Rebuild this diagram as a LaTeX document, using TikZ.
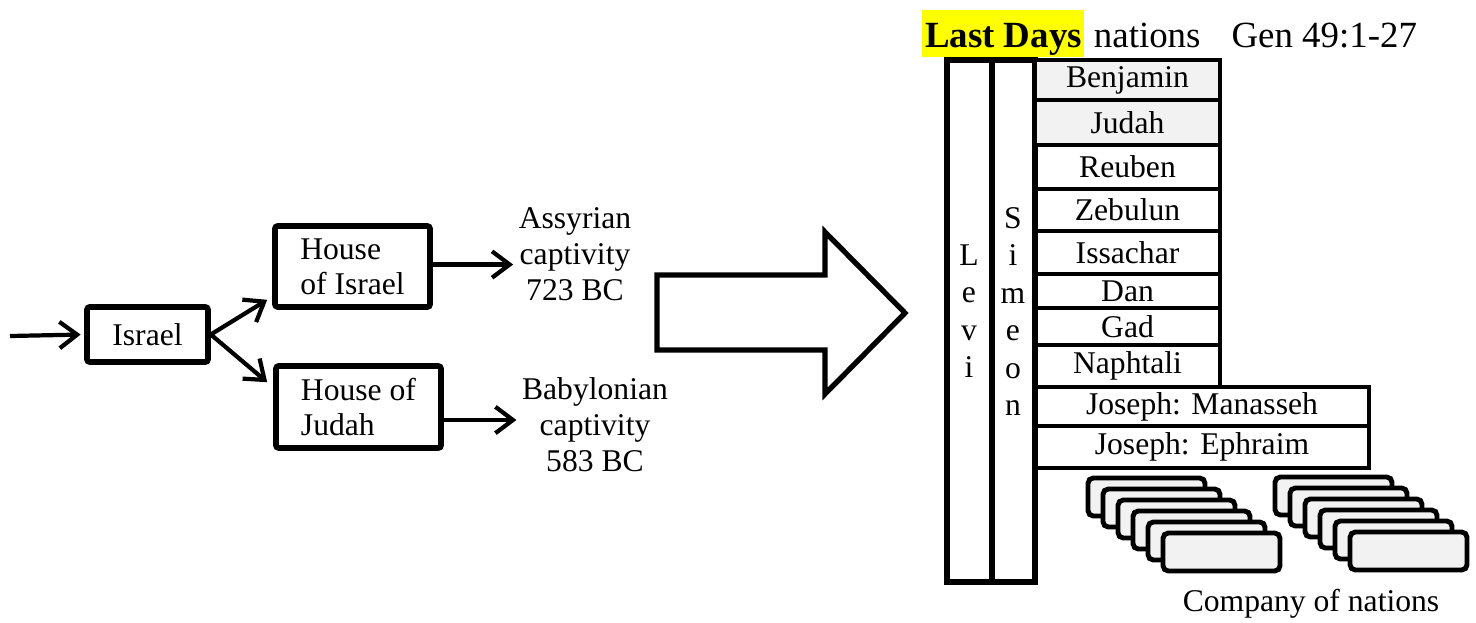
\documentclass[tikz,border=0pt]{standalone}
\usepackage{fontspec}
\setmainfont{Liberation Serif}
\usetikzlibrary{arrows.meta,positioning,calc}
\definecolor{paleg}{HTML}{F2F2F2}
\definecolor{hilite}{HTML}{FFFF00}
\newcommand{\bodysize}{\fontsize{18}{20}\selectfont}
\newcommand{\capsize}{\fontsize{18}{20.5}\selectfont}
\newcommand{\colsize}{\fontsize{18}{21.3}\selectfont}
\newcommand{\headsize}{\fontsize{21}{24}\selectfont}
\tikzset{
	house/.style={draw,line width=3.2pt,rounded corners=1.5pt,inner sep=0pt,align=left,font=\bodysize},
	conn/.style={line width=2.4pt,-{Straight Barb[length=10pt,width=15pt]}},
	caption/.style={align=center,inner ysep=0pt,inner xsep=3pt,font=\capsize},
	column/.style={draw,line width=3pt,inner sep=0pt},
	letters/.style={align=center,inner sep=0pt,font=\colsize},
	tribe/.style={draw,line width=2.8pt,inner sep=0pt,font=\bodysize},
	nation/.style={draw,line width=2.8pt,rounded corners=3pt,fill=paleg},
}
\begin{document}
\begin{tikzpicture}[x=0.02cm,y=-0.02cm]
	\def\pu{0.02cm}
	\useasboundingbox (0,0) rectangle (1476,622);

	% left side: the two houses
	\node[house,minimum width=121*\pu,minimum height=55*\pu] (israel) at (147.5,334.5) {Israel};
	\node[house,minimum width=155*\pu,minimum height=81*\pu] (hoi) at (352.5,266.5) {House\\of Israel};
	\node[house,minimum width=165*\pu,minimum height=82*\pu] (hoj) at (358.5,407) {House of\\Judah};
	\node[caption] (assyria) at (575,254) {Assyrian\\captivity\\723 BC};
	\node[caption] (babylon) at (595,425) {Babylonian\\captivity\\583 BC};
	\coordinate (start) at (10,336);

	\draw[conn,shorten >=2pt] (start) -- (israel.west);
	\draw[conn] (israel.east) -- ($(hoi.south west)+(-5,-10)$);
	\draw[conn] (israel.east) -- ($(hoj.north west)+(-6,19)$);
	\draw[conn] ([yshift=2*\pu]hoi.east) -- ([yshift=2*\pu]hoi.east -| assyria.west);
	\draw[conn] ([yshift=-13*\pu]hoj.east) -- ([yshift=-13*\pu]hoj.east -| babylon.west);

	% big arrow
	\coordinate (a1) at (657,275);
	\coordinate (a2) at (825,275);
	\coordinate (a3) at (825,232);
	\coordinate (a4) at (905,313);
	\coordinate (a5) at (825,394);
	\coordinate (a6) at (825,350);
	\coordinate (a7) at (657,350);
	\draw[line width=3pt] (a1) -- (a2) -- (a3) -- (a4) -- (a5) -- (a6) -- (a7) -- cycle;

	% title
	\node[anchor=base west,fill=hilite,font=\headsize\bfseries,text height=21pt,text depth=5.5pt,inner xsep=1.5pt,inner ysep=0pt] (lastdays) at (922,47) {Last Days};
	\node[anchor=base west,font=\headsize,inner sep=0pt] (gen) at ([xshift=5pt]lastdays.base east) {nations\hspace{0.62cm}Gen 49:1-27};

	% Levi and Simeon
	\node[column,minimum width=45*\pu,minimum height=522*\pu] (levi) at (969.5,321) {};
	\node[column,minimum width=43*\pu,minimum height=522*\pu] (simeon) at (1013.5,321) {};
	\node[letters] (levitxt) at (969,311) {L\\e\\v\\i};
	\node[letters] (simeontxt) at (1013,311.5) {S\\i\\m\\e\\o\\n};

	% the tribes
	\node[tribe,fill=paleg,minimum width=185*\pu,minimum height=40*\pu] (benjamin) at (1127.5,80) {Benjamin};
	\node[tribe,fill=paleg,minimum width=185*\pu,minimum height=45*\pu] (judah) at (1127.5,122.5) {Judah};
	\node[tribe,minimum width=185*\pu,minimum height=44*\pu] (reuben) at (1127.5,167) {Reuben};
	\node[tribe,minimum width=185*\pu,minimum height=42*\pu] (zebulun) at (1127.5,210) {Zebulun};
	\node[tribe,minimum width=185*\pu,minimum height=43*\pu] (issachar) at (1127.5,252.5) {Issachar};
	\node[tribe,minimum width=185*\pu,minimum height=34*\pu] (dan) at (1127.5,291) {Dan};
	\node[tribe,minimum width=185*\pu,minimum height=37*\pu] (gad) at (1127.5,326.5) {Gad};
	\node[tribe,minimum width=185*\pu,minimum height=42*\pu] (naphtali) at (1127.5,366) {Naphtali};
	\node[tribe,minimum width=334*\pu,minimum height=39*\pu] (manasseh) at (1202,406.5) {Joseph: Manasseh};
	\node[tribe,minimum width=334*\pu,minimum height=42*\pu] (ephraim) at (1202,447) {Joseph: Ephraim};

	% company of nations
	\draw[nation] (1088,478) rectangle ++(117,38);
	\draw[nation] (1103,489) rectangle ++(117,38);
	\draw[nation] (1118,500) rectangle ++(117,38);
	\draw[nation] (1133,511) rectangle ++(117,38);
	\draw[nation] (1148,522) rectangle ++(117,38);
	\draw[nation] (1163,533) rectangle ++(117,38);

	\draw[nation] (1275,477) rectangle ++(117,38);
	\draw[nation] (1290,488) rectangle ++(117,38);
	\draw[nation] (1305,499) rectangle ++(117,38);
	\draw[nation] (1320,510) rectangle ++(117,38);
	\draw[nation] (1335,521) rectangle ++(117,38);
	\draw[nation] (1350,532) rectangle ++(117,38);

	\node[font=\bodysize,inner sep=0pt] (company) at (1311,604) {Company of nations};
\end{tikzpicture}
\end{document}
